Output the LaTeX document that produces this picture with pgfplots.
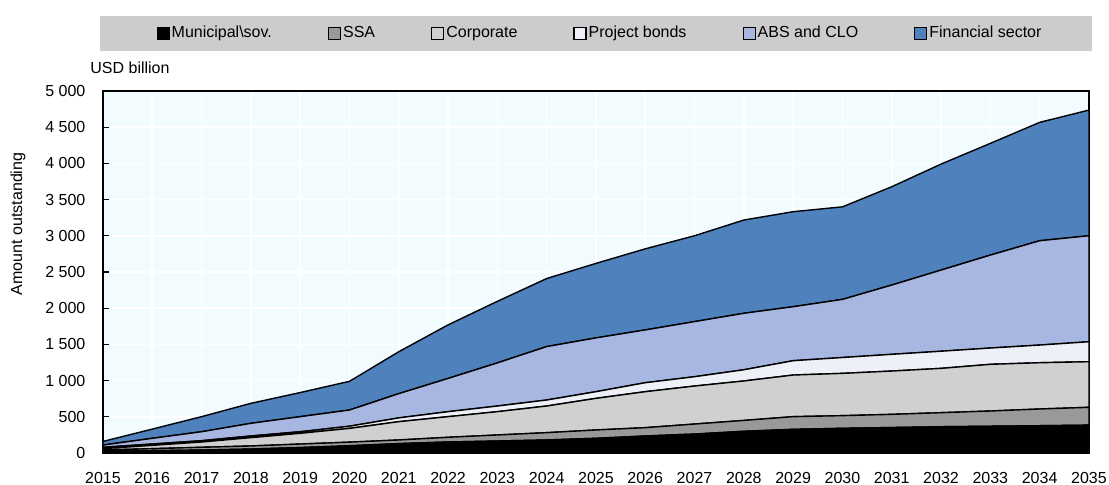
\documentclass[border=0pt]{standalone}
\usepackage{fontspec}
\setmainfont{Liberation Sans}
\usepackage{pgfplots}
\usepackage{pgfplotstable}
\pgfplotsset{compat=1.18}
\definecolor{cMuni}{HTML}{000000}
\definecolor{cSSA}{HTML}{999999}
\definecolor{cCorp}{HTML}{D0D0D0}
\definecolor{cProj}{HTML}{EEF0F8}
\definecolor{cABS}{HTML}{A8B7E1}
\definecolor{cFin}{HTML}{4F81BD}
\definecolor{cBack}{HTML}{F2FCFF}
\definecolor{cLegBox}{HTML}{CCCCCC}

\pgfplotstableread{
year muni ssa corp proj abs fin
2015 23 18 19 19 31 50
2016 32 28 46 18 79 127
2017 41 38 73 18 124 208
2018 55 42 115 23 175 276
2019 75 49 148 22 208 333
2020 100 50 190 30 224 396
2021 130 50 253 52 335 579
2022 152 65 285 69 459 740
2023 166 83 322 78 596 850
2024 180 101 368 83 738 940
2025 203 115 437 92 743 1029
2026 235 115 497 124 729 1120
2027 262 138 525 129 761 1186
2028 300 150 545 155 780 1288
2029 327 175 575 198 746 1312
2030 341 175 584 219 803 1278
2031 352 182 598 231 957 1358
2032 363 194 612 237 1121 1464
2033 370 210 645 225 1284 1543
2034 377 231 639 244 1441 1635
2035 385 246 630 276 1464 1736
}\data

\begin{document}
\begin{tikzpicture}[font=\fontsize{8}{9.6}\selectfont]
\begin{axis}[name=ax, scale only axis, width=493pt, height=181pt,
 xmin=2015, xmax=2035, ymin=0, ymax=5000,
 xtick={2015,...,2035}, ytick={0,500,...,5000},
 yticklabels={0,500,1 000,1 500,2 000,2 500,3 000,3 500,4 000,4 500,5 000},
 /pgf/number format/assume math mode=true,
 xticklabel style={/pgf/number format/1000 sep=, yshift=-6pt},
 yticklabel style={xshift=-5.3pt},
 tick align=inside, xtick pos=bottom, ytick pos=left, major tick length=3pt,
 tick style={black, line width=0.6pt},
 axis line style={line width=0.8pt},
 axis background/.style={fill=cBack},
 grid=major, major grid style={white, line width=0.8pt},
 stack plots=y,
 clip=false,
 every axis plot/.append style={draw=black, line width=0.7pt},
 legend image code/.code={\draw[#1,draw=black,line width=0.6pt] (0pt,-3pt) rectangle (6pt,3pt);},
 legend columns=6,
 legend style={at={(0.5,1)}, anchor=center, xshift=2pt, yshift=28.9pt, draw=none, fill=none,
   font=\fontsize{8}{9.6}\selectfont,
   /tikz/every even column/.append style={column sep=27pt},
   nodes={inner sep=1pt}},
 ylabel={Amount outstanding},
 ylabel style={at={([xshift=-42.5pt]axis description cs:0,0.633)}, anchor=center},
]
\fill[cLegBox] ([xshift=-1.5pt,yshift=20.2pt]rel axis cs:0,1) rectangle ([xshift=1.5pt,yshift=37.7pt]rel axis cs:1,1);
\node[anchor=west, inner sep=0pt] at ([xshift=-6.5pt,yshift=11.5pt]rel axis cs:0,1) {USD billion};
\addplot[fill=cMuni] table[x=year,y=muni]{\data} \closedcycle;
\addplot[fill=cSSA] table[x=year,y=ssa]{\data} \closedcycle;
\addplot[fill=cCorp] table[x=year,y=corp]{\data} \closedcycle;
\addplot[fill=cProj] table[x=year,y=proj]{\data} \closedcycle;
\addplot[fill=cABS] table[x=year,y=abs]{\data} \closedcycle;
\addplot[fill=cFin] table[x=year,y=fin]{\data} \closedcycle;
\legend{Municipal\textbackslash sov., SSA, Corporate, Project bonds, ABS and CLO, Financial sector}
\end{axis}
\pgfresetboundingbox
\path[use as bounding box] ([xshift=-51.5pt,yshift=-15.5pt]ax.south west) rectangle ([xshift=10pt,yshift=45.5pt]ax.north east);
\end{tikzpicture}
\end{document}
